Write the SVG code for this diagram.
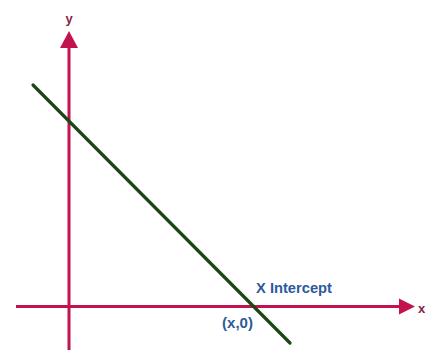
<svg xmlns="http://www.w3.org/2000/svg" width="431" height="350" viewBox="0 0 431 350">
<style>
.axis{stroke:#c2134f;stroke-width:3;fill:none}
.head{fill:#c2134f}
.lbl{font-family:"Liberation Sans",Arial,sans-serif;font-weight:bold;fill:#2d5a9c}
.ax{font-family:"Liberation Sans",Arial,sans-serif;font-weight:bold;fill:#8a1e4a;font-size:13px}
</style>
<rect width="431" height="350" fill="#ffffff"/>
<g id="connectors">
<line class="axis" x1="69" y1="46" x2="69" y2="350"/>
<polygon class="head" points="69,31 60,48 78,48"/>
<line class="axis" x1="16" y1="306.5" x2="402" y2="306.5"/>
<polygon class="head" points="415,306.5 399,298.5 399,314.5"/>
<line x1="33" y1="85" x2="290" y2="343" stroke="#1c4616" stroke-width="3.2" stroke-linecap="round"/>
</g>
<g id="y-label"><text class="ax" x="69" y="23" text-anchor="middle">y</text></g>
<g id="x-label"><text class="ax" x="418" y="313">x</text></g>
<g id="intercept-label"><text class="lbl" x="256" y="292.5" font-size="15" textLength="76" lengthAdjust="spacingAndGlyphs">X Intercept</text></g>
<g id="point-label"><text class="lbl" x="222" y="327.5" font-size="14" textLength="31" lengthAdjust="spacingAndGlyphs">(x,0)</text></g>
</svg>
